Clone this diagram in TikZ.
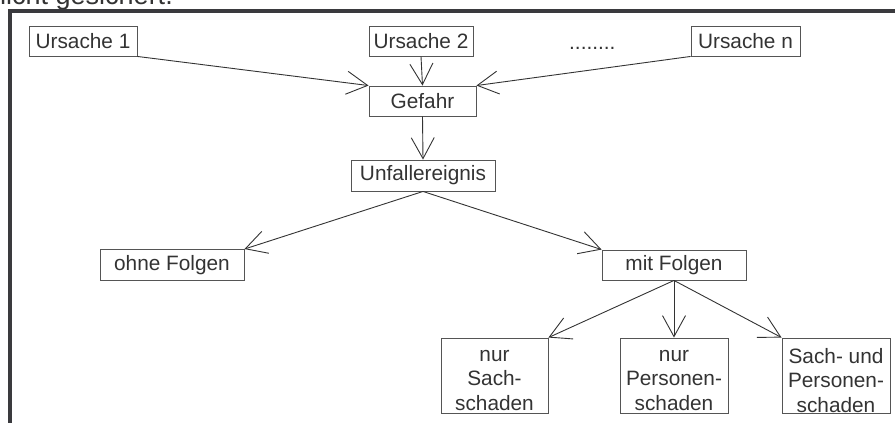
\documentclass[tikz,border=0pt]{standalone}
\usepackage{fontspec}
\setmainfont{Liberation Sans}
\usetikzlibrary{arrows.meta}
\definecolor{txt}{HTML}{333333}
\definecolor{bd}{HTML}{555555}
\definecolor{frm}{HTML}{3A3A3E}
\begin{document}
\begin{tikzpicture}[x=1pt,y=-1pt,
  box/.style={draw=bd, line width=0.9pt, text=txt, font=\fontsize{20.8}{24.5}\selectfont, inner sep=0pt, align=center, minimum height=30pt},
  lbl/.style={text=txt, font=\fontsize{20.8}{24.5}\selectfont, inner sep=0pt, align=center},
  arr/.style={draw=txt, line width=0.9pt, -{Straight Barb[length=21pt,width=23pt,line width=0.9pt]}}]
\useasboundingbox (0,0) rectangle (895,423);
\clip (0,0) rectangle (895,423);
% cut-off caption
\node[anchor=base east, font=\fontsize{27}{30}\selectfont, text=txt, inner sep=0pt] (cap) at (173,5) {nicht gesichert.};
% frame
\draw[frm, line width=4.5pt] (10,430) -- (10,11) -- (900,11);
% nodes
\node[box, minimum width=108pt] (u1) at (83,41) {Ursache 1};
\node[box, minimum width=104pt] (u2) at (421,41) {Ursache 2};
\node[lbl, anchor=base west] (dots) at (569,49) {........};
\node[box, minimum width=109pt] (un) at (745.5,41) {Ursache n};
\node[box, minimum width=107pt] (gef) at (422.5,101) {Gefahr};
\node[box, minimum width=144pt, minimum height=31pt] (unf) at (423,175.5) {Unfallereignis};
\node[box, minimum width=144pt, minimum height=31pt] (ohne) at (172,265) {ohne Folgen};
\node[box, minimum width=144pt] (mit) at (674,265) {mit Folgen};
\node[box, minimum width=107pt, minimum height=75pt] (s1) at (494.5,375.5) {};
\node[box, minimum width=108pt, minimum height=75pt] (s2) at (674,375.5) {};
\node[box, minimum width=108pt, minimum height=75pt] (s3) at (836,375.5) {};
\node[lbl] (s1t) at ([yshift=-5pt]s1.center) {nur\\Sach-\\schaden};
\node[lbl] (s2t) at ([yshift=-5pt]s2.center) {nur\\Personen-\\schaden};
\node[lbl] (s3t) at ([yshift=-5pt]s3.center) {Sach- und\\Personen-\\schaden};
% connectors
\draw[arr] (u1.south east) -- (gef.north west);
\draw[arr] (u2.south) -- (gef.north);
\draw[arr] (un.south west) -- (gef.north east);
\draw[arr] (gef.south) -- (unf.north);
\draw[arr] (unf.south) -- (ohne.north east);
\draw[arr] (unf.south) -- (mit.north west);
\draw[arr] (mit.south) -- (s1.north east);
\draw[arr] (mit.south) -- (s2.north);
\draw[arr] (mit.south) -- (s3.north west);
\end{tikzpicture}
\end{document}
